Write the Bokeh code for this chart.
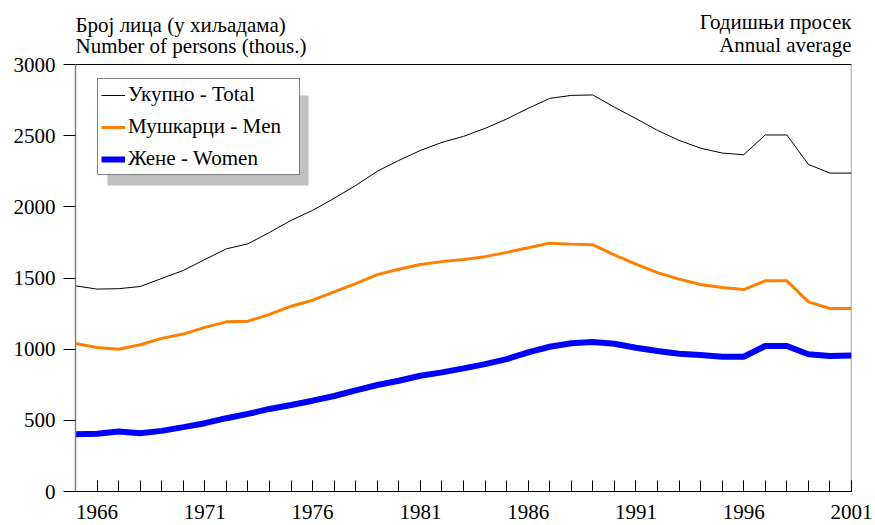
from bokeh.plotting import figure
from bokeh.models import (Range1d, FixedTicker, Label, Span, Legend, LegendItem)
from bokeh.embed import file_html
from bokeh.resources import INLINE

# ---------------- data ----------------
years = [1965, 1966, 1967, 1968, 1969, 1970, 1971, 1972, 1973, 1974,
         1975, 1976, 1977, 1978, 1979, 1980, 1981, 1982, 1983, 1984,
         1985, 1986, 1987, 1988, 1989, 1990, 1991, 1992, 1993, 1994,
         1995, 1996, 1997, 1998, 1999, 2000, 2001]
total = [1445, 1422, 1425, 1440, 1497, 1553, 1630, 1705, 1740, 1820,
         1905, 1975, 2060, 2150, 2250, 2326, 2396, 2453, 2495, 2551,
         2617, 2692, 2762, 2783, 2786, 2700, 2620, 2537, 2467, 2412,
         2378, 2366, 2505, 2505, 2298, 2237, 2237]
men = [1040, 1012, 1000, 1031, 1076, 1106, 1153, 1192, 1197, 1244,
       1302, 1344, 1402, 1461, 1524, 1562, 1595, 1615, 1630, 1650,
       1680, 1712, 1745, 1738, 1733, 1662, 1597, 1538, 1492, 1454,
       1433, 1419, 1480, 1480, 1332, 1286, 1286]
women = [402, 405, 421, 410, 426, 452, 480, 515, 545, 580,
         608, 638, 671, 711, 748, 778, 813, 837, 865, 895,
         930, 977, 1017, 1041, 1050, 1038, 1010, 987, 968, 959,
         947, 947, 1022, 1022, 964, 952, 955]
x_label_years = [1966, 1971, 1976, 1981, 1986, 1991, 1996, 2001]
y_ticks = [0, 500, 1000, 1500, 2000, 2500, 3000]
series_names = ["Укупно - Total", "Мушкарци - Men", "Жене - Women"]
title_left = ["Број лица (у хиљадама)", "Number of persons (thous.)"]
title_right = ["Годишњи просек", "Annual average"]

X0, X1, Y0, Y1 = 1965, 2001, 0, 3000

# ---------------- layout ----------------
W, H = 875, 525
B_LEFT, B_RIGHT, B_TOP, B_BOTTOM = 75, 24, 6, 34
TOP_PAD = 58            # px between frame top and the 3000 line
FRAME_W = W - B_LEFT - B_RIGHT
FRAME_H = H - B_TOP - B_BOTTOM
PLOT_H = FRAME_H - TOP_PAD
Y_END = Y1 + TOP_PAD * (Y1 - Y0) / PLOT_H
FONT = "Liberation Serif"
FS = "21px"

p = figure(width=W, height=H, output_backend="svg", toolbar_location=None,
           x_range=Range1d(X0, X1), y_range=Range1d(Y0, Y_END),
           min_border_left=B_LEFT, min_border_right=B_RIGHT,
           min_border_top=B_TOP, min_border_bottom=B_BOTTOM,
           background_fill_color="white", border_fill_color="white")
p.outline_line_color = None
p.xgrid.visible = False
p.ygrid.visible = False

# x axis
xa = p.xaxis[0]
xa.ticker = FixedTicker(ticks=x_label_years, minor_ticks=years)
xa.axis_line_color = "black"
xa.major_tick_line_color = "black"
xa.minor_tick_line_color = "black"
xa.major_tick_in = 11
xa.major_tick_out = 0
xa.minor_tick_in = 11
xa.minor_tick_out = 0
xa.major_label_standoff = 13
xa.major_label_text_font = FONT
xa.major_label_text_font_size = FS
xa.major_label_text_color = "black"

# y axis
ya = p.yaxis[0]
ya.ticker = FixedTicker(ticks=y_ticks, minor_ticks=[])
ya.bounds = (Y0, Y1)
ya.axis_line_color = "#808080"
ya.axis_line_width = 1.5
ya.major_tick_line_color = "black"
ya.major_tick_in = 0
ya.major_tick_out = 12
ya.minor_tick_in = 0
ya.minor_tick_out = 0
ya.major_label_standoff = 8
ya.major_label_text_font = FONT
ya.major_label_text_font_size = FS
ya.major_label_text_color = "black"

# frame: top black line and right gray line
p.add_layout(Span(location=Y1, dimension="width", line_color="black", line_width=1.2))
p.segment(x0=[X1], y0=[Y0], x1=[X1], y1=[Y1], line_color="#808080", line_width=1.5)

# legend shadow (pixel offsets converted to data units)
LEG_X, LEG_TOP, LEG_W, LEG_H, SHADOW = 22, 21, 201, 90, 10
px_x = (X1 - X0) / FRAME_W
px_y = (Y1 - Y0) / PLOT_H
p.quad(left=X0 + (LEG_X + SHADOW) * px_x,
       right=X0 + (LEG_X + LEG_W + SHADOW) * px_x,
       top=Y1 - (LEG_TOP + SHADOW) * px_y,
       bottom=Y1 - (LEG_TOP + LEG_H + SHADOW) * px_y,
       fill_color="#c0c0c0", line_color=None)

r_total = p.line(years, total, line_color="black", line_width=1)
r_men = p.line(years, men, line_color="#ff8000", line_width=3)
r_women = p.line(years, women, line_color="#0000ff", line_width=6)

legend = Legend(items=[LegendItem(label=series_names[0], renderers=[r_total]),
                       LegendItem(label=series_names[1], renderers=[r_men]),
                       LegendItem(label=series_names[2], renderers=[r_women])],
                location=(LEG_X, PLOT_H - LEG_TOP - LEG_H))
legend.label_text_font = FONT
legend.label_text_font_size = FS
legend.label_text_color = "black"
legend.glyph_width = 24
legend.glyph_height = 20
legend.label_height = 20
legend.label_width = 168
legend.label_standoff = 3
legend.spacing = 7
legend.padding = 3
legend.margin = 0
legend.border_line_color = "black"
legend.border_line_width = 1
legend.background_fill_color = "white"
legend.background_fill_alpha = 1
p.add_layout(legend, "center")

# header texts
for txt, off in zip(title_left, [40, 19]):
    p.add_layout(Label(x=X0, y=Y1, x_units="data", y_units="data",
                       text=txt, y_offset=off, text_align="left",
                       text_baseline="alphabetic", text_font=FONT,
                       text_font_size=FS, text_color="black"))
for txt, off in zip(title_right, [43, 20]):
    p.add_layout(Label(x=X1, y=Y1, x_units="data", y_units="data",
                       text=txt, y_offset=off, text_align="right",
                       text_baseline="alphabetic", text_font=FONT,
                       text_font_size=FS, text_color="black"))

open("out.html", "w").write(file_html(p, INLINE))
